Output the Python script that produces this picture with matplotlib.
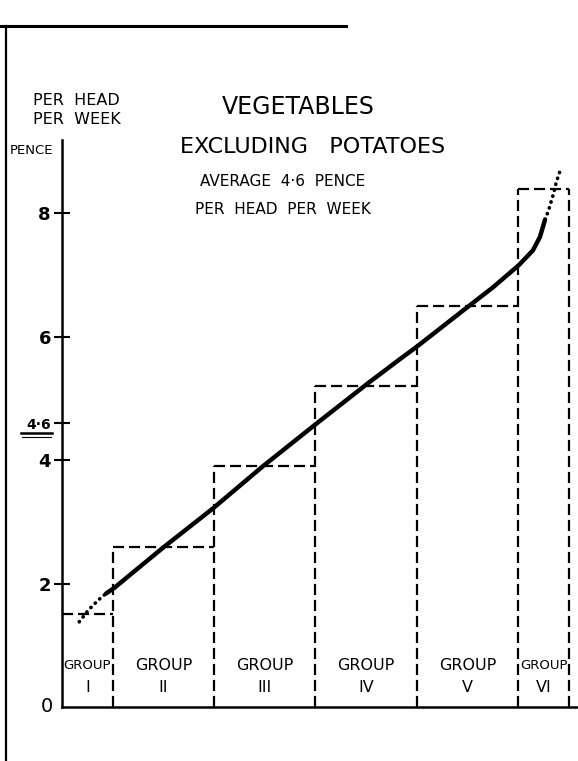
import matplotlib
matplotlib.use("Agg")
import matplotlib.pyplot as plt
from matplotlib.lines import Line2D
import numpy as np

# ---- data ----
group_labels = ["I", "II", "III", "IV", "V", "VI"]
group_share = [10, 20, 20, 20, 20, 10]          # % of population in each group
group_pence = [1.5, 2.6, 3.9, 5.2, 6.5, 8.4]    # average spend per group
average_pence = 4.6
ytick_vals = [2, 4, 6, 8]
ytick_text = ["2", "4", "6", "8"]

curve_low_x = [3.4, 5.2, 7.0, 7.8, 8.7]
curve_low_y = [1.38, 1.57, 1.72, 1.78, 1.84]
curve_x = [8.7, 10.3, 19.9, 29.8, 39.6, 50.3, 60.4, 66.7, 70.0, 79.5, 85.0, 90.1, 92.9, 94.3, 95.3]
curve_y = [1.84, 1.93, 2.58, 3.22, 3.90, 4.60, 5.25, 5.64, 5.84, 6.45, 6.80, 7.16, 7.40, 7.62, 7.90]
curve_high_x = [95.3, 96.0, 97.0, 97.5, 98.3]
curve_high_y = [7.90, 8.05, 8.33, 8.50, 8.70]

W, H = 578, 761
fig = plt.figure(figsize=(W / 100, H / 100), dpi=100)
fig.patch.set_facecolor("white")

def fx(px):
    return px / W

def fy(py):
    return 1 - py / H

ax = fig.add_axes([fx(62), fy(707), (W - 62) / W, (707 - 140) / H])
ax.set_xlim(0, 101.8)
ax.set_ylim(0, 9.19)

# dashed group steps: one vertical at each boundary, one top per group
edges = np.concatenate([[0], np.cumsum(group_share)])
pad_h = np.concatenate([[0], group_pence, [0]])
vert_top = np.maximum(pad_h[:-1], pad_h[1:])
dash = (0, (5, 2.2))
ax.vlines(edges[1:], 0, vert_top[1:], colors="black", linewidth=1.6, linestyles=[dash], zorder=2)
ax.hlines(group_pence, edges[:-1], edges[1:], colors="black", linewidth=1.6, linestyles=[dash], zorder=2)

# curve
ax.plot(curve_x, curve_y, color="black", lw=3.2, solid_capstyle="round",
        solid_joinstyle="round", zorder=3)
ax.plot(curve_low_x, curve_low_y, color="black", lw=2.6, linestyle=(0, (0.1, 1.6)),
        dash_capstyle="round", zorder=3)
ax.plot(curve_high_x, curve_high_y, color="black", lw=2.6, linestyle=(0, (0.1, 1.6)),
        dash_capstyle="round", zorder=3)

# spines / ticks
for s in ["top", "right"]:
    ax.spines[s].set_visible(False)
ax.spines["left"].set_linewidth(1.8)
ax.spines["bottom"].set_linewidth(1.8)
ax.set_xticks([])
ax.set_yticks(ytick_vals + [average_pence])
ax.set_yticklabels(ytick_text + ["4·6"])
ax.tick_params(axis="y", direction="inout", length=12, width=1.5, pad=2, labelsize=13)
for lbl in ax.get_yticklabels():
    lbl.set_fontweight("bold")
    if lbl.get_text() == "4·6":
        lbl.set_fontsize(10)
ax.text(-1.8, 0, "0", transform=ax.transData, ha="right", va="center", fontsize=14)

# underline of 4·6
fig.add_artist(Line2D([fx(21), fx(52)], [fy(433), fy(433)], color="black", lw=1.8))
fig.add_artist(Line2D([fx(22), fx(51)], [fy(436.5), fy(436.5)], color="black", lw=0.8))

# group labels
centers = edges[:-1] + np.array(group_share) / 2
for c, lab, w in zip(centers, group_labels, group_share):
    fs = 11.5 if w >= 20 else 9.5
    ax.text(c, 0.68, "GROUP", ha="center", va="center", fontsize=fs)
    ax.text(c, 0.32, lab, ha="center", va="center", fontsize=11.5)

# titles and labels
fig.text(fx(33), fy(93), "PER  HEAD\nPER  WEEK", ha="left", va="top", fontsize=11.5,
         linespacing=1.35)
fig.text(fx(10), fy(150), "PENCE", ha="left", va="center", fontsize=9.5)
fig.text(fx(298), fy(107), "VEGETABLES", ha="center", va="center", fontsize=17)
fig.text(fx(313), fy(147), "EXCLUDING   POTATOES", ha="center", va="center", fontsize=16)
fig.text(fx(283), fy(182), "AVERAGE  4·6  PENCE", ha="center", va="center", fontsize=11)
fig.text(fx(283), fy(209), "PER  HEAD  PER  WEEK", ha="center", va="center", fontsize=11)

# frame lines
fig.add_artist(Line2D([fx(0), fx(346)], [fy(26), fy(26)], color="black", lw=2.2))
fig.add_artist(Line2D([fx(6), fx(6)], [fy(26), fy(761)], color="black", lw=1.6))

fig.savefig("out.png", dpi=100, facecolor="white")
